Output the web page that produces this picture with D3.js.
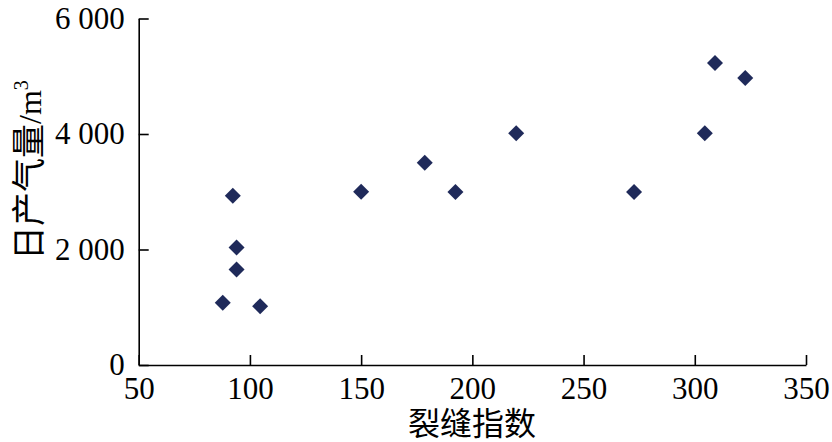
<!DOCTYPE html>
<html><head><meta charset="utf-8">
<script src="https://cdn.jsdelivr.net/npm/d3@7"></script>
<style>html,body{margin:0;padding:0;background:#fff;}</style>
</head><body>
<svg id="chart" width="832" height="442"></svg>
<script>
const fractureIndex = [87.8, 92.3, 94.0, 94.0, 104.6, 150, 178.6, 192.4, 219.7, 272.7, 304.5, 309.1, 322.7];
const dailyGas = [1080, 2930, 2034, 1653, 1018, 3000, 3503, 2995, 4012, 2995, 4011, 5230, 4970];
const xTicks = [50, 100, 150, 200, 250, 300, 350];
const yTicks = [0, 2000, 4000, 6000];
const xTitle = "裂缝指数";

const svg = d3.select("#chart");
const x = d3.scaleLinear().domain([50, 350]).range([138.7, 806]);
const y = d3.scaleLinear().domain([0, 6000]).range([365, 18.5]);
const fmt = d3.formatLocale({decimal: ".", thousands: " ", grouping: [3], currency: ["", ""]}).format(",");
const serif = "'Liberation Serif','Times New Roman',serif";

const gx = svg.append("g").attr("transform", "translate(0,365)")
  .call(d3.axisBottom(x).tickValues(xTicks).tickSizeInner(-10).tickSizeOuter(0).tickFormat(d3.format("d")));
const gy = svg.append("g").attr("transform", "translate(138.7,0)")
  .call(d3.axisLeft(y).tickValues(yTicks).tickSizeInner(-10).tickSizeOuter(0).tickPadding(14).tickFormat(fmt));

[gx, gy].forEach(g => {
  g.select(".domain").attr("stroke", "#000").attr("stroke-width", 1.6);
  g.selectAll(".tick line").attr("stroke", "#000").attr("stroke-width", 1.6);
  g.selectAll(".tick text").attr("fill", "#000").style("font-family", serif).style("font-size", "31px");
});
gx.selectAll(".tick text").attr("y", 34).attr("dy", 0);

svg.append("g").selectAll("path").data(fractureIndex).join("path")
  .attr("d", d3.symbol().type(d3.symbolSquare).size(128))
  .attr("transform", (d, i) => `translate(${x(d)},${y(dailyGas[i])}) rotate(45)`)
  .attr("fill", "#1f2a5a");

svg.append("text").attr("x", 472).attr("y", 435).attr("text-anchor", "middle")
  .style("font-family", "'Noto Sans CJK SC',sans-serif").style("font-size", "32px").attr("fill", "#000")
  .text(xTitle);

const yl = svg.append("text").attr("transform", "translate(41,260) rotate(-90)").attr("text-anchor", "start")
  .style("font-family", serif + ",'Noto Sans CJK SC'").style("font-size", "32px").attr("fill", "#000");
yl.append("tspan").style("font-family", "'Noto Sans CJK SC',sans-serif").style("font-size", "34px").text("日产气量");
yl.append("tspan").text("/m");
yl.append("tspan").attr("dy", -13).style("font-size", "20px").text("3");
</script>
</body></html>
